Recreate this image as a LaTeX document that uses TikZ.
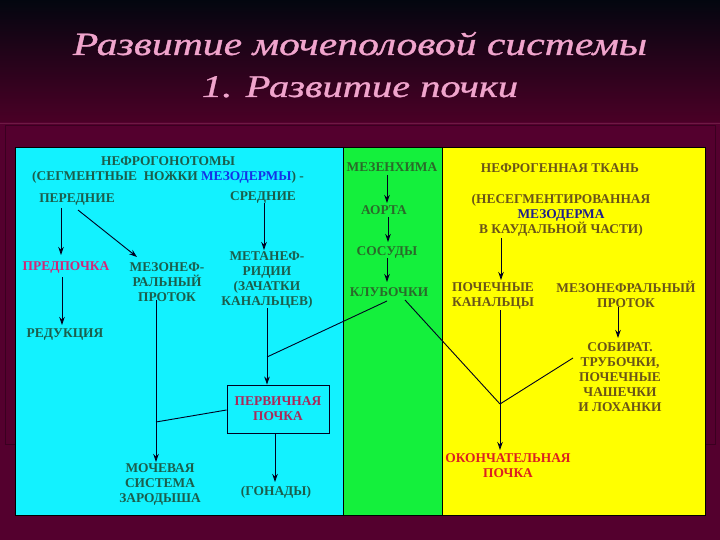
\documentclass[tikz,border=0pt]{standalone}
\usepackage{fontspec}
\setmainfont{Liberation Serif}
\newfontfamily\titlefont{Liberation Serif}[ItalicFeatures={FakeBold=0.8}]
\usetikzlibrary{arrows.meta,calc}
\definecolor{bgtop}{HTML}{03060F}
\definecolor{bgmid}{HTML}{4A0026}
\definecolor{bglow}{HTML}{54002E}
\definecolor{frame}{HTML}{3A0020}
\definecolor{sepline}{HTML}{6E1A44}
\definecolor{titlecol}{HTML}{F0A4CC}
\definecolor{pcyan}{HTML}{12F2FF}
\definecolor{pgreen}{HTML}{14F03C}
\definecolor{pyellow}{HTML}{FFFF00}
\definecolor{ctext}{HTML}{1B5E4C}
\definecolor{gtext}{HTML}{2A6A2A}
\definecolor{ytext}{HTML}{6A5418}
\definecolor{pinktext}{HTML}{D02878}
\definecolor{primtext}{HTML}{A82A5A}
\definecolor{redtext}{HTML}{DC2020}
\definecolor{bluetext}{HTML}{1432E6}
\definecolor{navytext}{HTML}{1E1E8C}
\definecolor{linecol}{HTML}{000020}
\begin{document}
\begin{tikzpicture}[x=1pt,y=-1pt,
  txt/.style={font=\fontsize{13.4}{15}\selectfont\bfseries, inner sep=0pt, align=center},
  ctxt/.style={txt,text=ctext},
  gtxt/.style={txt,text=gtext},
  ytxt/.style={txt,text=ytext},
  arr/.style={-{Stealth[length=8pt,width=5.5pt]}, line width=0.9pt, draw=linecol},
  ln/.style={line width=0.9pt, draw=linecol},
  panel/.style={draw=black, line width=0.8pt}]
\useasboundingbox (0,0) rectangle (720,540);
% background
\shade[top color=bgtop, bottom color=bgmid] (0,0) rectangle (720,122);
\fill[bglow] (0,122) rectangle (720,540);
\draw[sepline, line width=0.8pt] (0,123) -- (720,123);
\draw[frame, line width=0.8pt] (5,125) rectangle (715,444);
% title
\node[anchor=base, text=titlecol, inner sep=0pt] (title1) at (360,55)
  {\scalebox{1}[0.78]{\resizebox{574pt}{!}{\titlefont\itshape Развитие мочеполовой системы}}};
\node[anchor=base, text=titlecol, inner sep=0pt] (title2) at (360,97)
  {\scalebox{1}[0.78]{\resizebox{316pt}{!}{\titlefont\itshape 1. Развитие почки}}};
% panels
\draw[panel, fill=pcyan] (15,147) rectangle (343,515);
\draw[panel, fill=pgreen] (343,147) rectangle (442,515);
\draw[panel, fill=pyellow] (442,147) rectangle (705,515);
% cyan panel texts
\node[ctxt] (nefrogon) at (168,170) {НЕФРОГОНОТОМЫ\\(СЕГМЕНТНЫЕ\ \ НОЖКИ {\color{bluetext}МЕЗОДЕРМЫ}) -};
\node[ctxt] (peredn) at (77,200) {ПЕРЕДНИЕ};
\node[ctxt] (sredn) at (263,197) {СРЕДНИЕ};
\node[txt, text=pinktext] (predp) at (66,267) {ПРЕДПОЧКА};
\node[ctxt] (mezonef) at (167,282.5) {МЕЗОНЕФ-\\РАЛЬНЫЙ\\ПРОТОК};
\node[ctxt] (metanef) at (267,280.5) {МЕТАНЕФ-\\РИДИИ\\(ЗАЧАТКИ\\КАНАЛЬЦЕВ)};
\node[ctxt] (redukc) at (65,335) {РЕДУКЦИЯ};
\node[txt, text=primtext, draw=linecol, line width=0.9pt, minimum width=102pt, minimum height=48pt] (perv) at (278,409) {ПЕРВИЧНАЯ\\ПОЧКА};
\node[ctxt] (mochev) at (160,484) {МОЧЕВАЯ\\СИСТЕМА\\ЗАРОДЫША};
\node[ctxt] (gonady) at (276,492) {(ГОНАДЫ)};
% green panel texts
\node[gtxt] (mezen) at (392,167) {МЕЗЕНХИМА};
\node[gtxt] (aorta) at (384,210) {АОРТА};
\node[gtxt] (sosudy) at (387,252) {СОСУДЫ};
\node[gtxt] (klub) at (389,292) {КЛУБОЧКИ};
% yellow panel texts
\node[ytxt] (nefrogen) at (560,168) {НЕФРОГЕННАЯ ТКАНЬ};
\node[ytxt] (nesegm) at (561,215) {(НЕСЕГМЕНТИРОВАННАЯ\\{\color{navytext}МЕЗОДЕРМА}\\В КАУДАЛЬНОЙ ЧАСТИ)};
\node[ytxt] (pochk) at (493,295.5) {ПОЧЕЧНЫЕ\\КАНАЛЬЦЫ};
\node[ytxt] (mezonefr) at (626,294.5) {МЕЗОНЕФРАЛЬНЫЙ\\ПРОТОК};
\node[ytxt] (sobir) at (620,377) {СОБИРАТ.\\ТРУБОЧКИ,\\ПОЧЕЧНЫЕ\\ЧАШЕЧКИ\\И ЛОХАНКИ};
\node[txt, text=redtext] (okonch) at (508,465.5) {ОКОНЧАТЕЛЬНАЯ\\ПОЧКА};
% junction points
\coordinate (j1) at (156,422);
\coordinate (j2) at (267,357);
\coordinate (j3) at (500,404);
% connectors, cyan panel
\draw[arr] ([xshift=-16pt,yshift=-8pt]peredn.center) -- ([xshift=-5pt,yshift=12pt]predp.center);
\draw[arr] ([xshift=1pt,yshift=-10pt]peredn.center) -- ([xshift=-30pt,yshift=25.5pt]mezonef.center);
\draw[arr] ([xshift=1pt,yshift=-6pt]sredn.center) -- ([xshift=-3pt,yshift=30.5pt]metanef.center);
\draw[arr] ([xshift=-4pt,yshift=-10pt]predp.center) -- ([xshift=-3pt,yshift=10pt]redukc.center);
\draw[arr] ([xshift=-11pt,yshift=-17.5pt]mezonef.center) -- ([xshift=-4pt,yshift=22pt]mochev.center);
\draw[arr] ([yshift=-27.5pt]metanef.center) -- ([xshift=-11pt]perv.north);
\draw[arr] ([xshift=-3pt]perv.south) -- ([xshift=-1pt,yshift=10pt]gonady.center);
\draw[ln] ([yshift=-1pt]perv.west) -- (j1);
% connectors, green panel
\draw[arr] ([xshift=-5pt,yshift=-8pt]mezen.center) -- ([xshift=3pt,yshift=7pt]aorta.center);
\draw[arr] ([xshift=4pt,yshift=-7pt]aorta.center) -- ([xshift=1pt,yshift=10pt]sosudy.center);
\draw[arr] ([yshift=-6pt]sosudy.center) -- ([xshift=-2pt,yshift=10pt]klub.center);
\draw[ln] ([xshift=-2pt,yshift=-9pt]klub.center) -- (j2);
\draw[ln] ([xshift=16pt,yshift=-8pt]klub.center) -- (j3);
% connectors, yellow panel
\draw[arr] ([xshift=-60pt,yshift=-23pt]nesegm.center) -- ([xshift=8pt,yshift=15.5pt]pochk.center);
\draw[ln] ([xshift=7pt,yshift=-14.5pt]pochk.center) -- (j3);
\draw[arr] (j3) -- ([xshift=-8pt,yshift=15.5pt]okonch.center);
\draw[ln] ([xshift=-47pt,yshift=19pt]sobir.center) -- (j3);
\draw[arr] ([xshift=-8pt,yshift=-12.5pt]mezonefr.center) -- ([xshift=-2pt,yshift=39pt]sobir.center);
\end{tikzpicture}
\end{document}
